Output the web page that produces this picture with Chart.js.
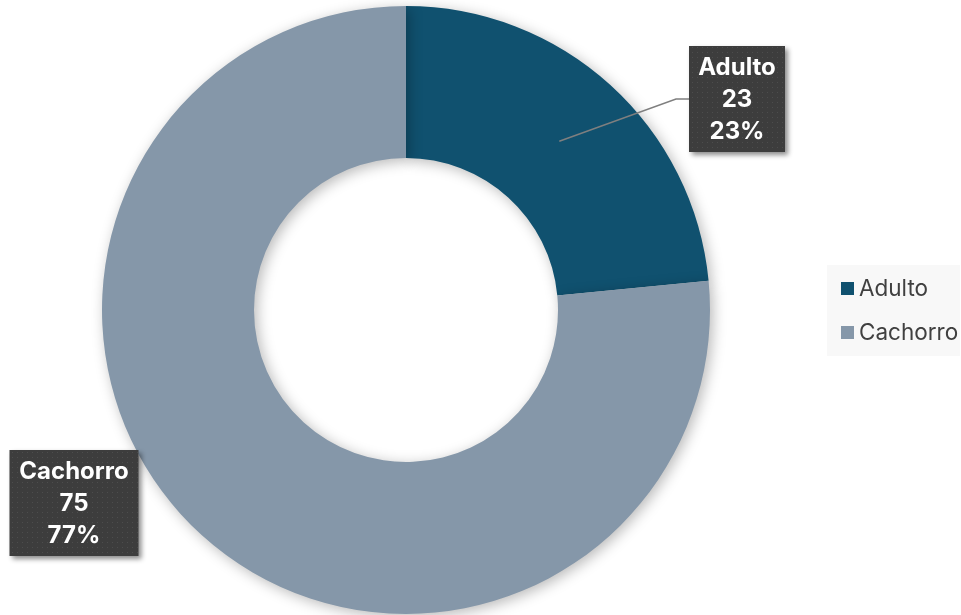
<!DOCTYPE html>
<html><head><meta charset="utf-8">
<script src="https://cdn.jsdelivr.net/npm/chart.js@4.4.1/dist/chart.umd.min.js"></script>
<style>html,body{margin:0;padding:0;background:#fff;}#wrap{width:961px;height:615px;position:relative;}</style>
</head><body><div id="wrap"><canvas id="c" width="961" height="615"></canvas></div>
<script>
const categories = ["Adulto", "Cachorro"];
const values = [23, 75];
const colors = ["#10516F", "#8597A9"];

const total = values.reduce((a, b) => a + b, 0);
const percents = values.map(v => Math.round(v / total * 100) + "%");

function makePattern(ctx) {
  const p = document.createElement("canvas");
  p.width = 5; p.height = 5;
  const g = p.getContext("2d");
  g.fillStyle = "#3d3d3d"; g.fillRect(0, 0, 5, 5);
  g.fillStyle = "#4d4d4d"; g.fillRect(2, 2, 1, 1);
  return ctx.createPattern(p, "repeat");
}

const shadowPlugin = {
  id: "shadow",
  beforeDatasetsDraw(chart) {
    const ctx = chart.ctx;
    ctx.save();
    ctx.shadowColor = "rgba(0,0,0,0.28)";
    ctx.shadowBlur = 14;
    ctx.shadowOffsetX = 3;
    ctx.shadowOffsetY = 3;
  },
  afterDatasetsDraw(chart) { chart.ctx.restore(); }
};

const labelPlugin = {
  id: "labels",
  afterDraw(chart) {
    const ctx = chart.ctx;
    const meta = chart.getDatasetMeta(0);
    const pat = makePattern(ctx);
    const boxes = [
      { dx: 331, dy: -211, w: 96, h: 106, leader: true },
      { dx: -332, dy: 193, w: 129, h: 106, leader: false }
    ];
    meta.data.forEach((arc, i) => {
      const b = boxes[i];
      const cx = arc.x + b.dx, cy = arc.y + b.dy;
      const x0 = cx - b.w / 2, y0 = cy - b.h / 2;
      if (b.leader) {
        const mid = (arc.startAngle + arc.endAngle) / 2;
        const r = (arc.innerRadius + arc.outerRadius) / 2;
        const sx = arc.x + Math.cos(mid) * r, sy = arc.y + Math.sin(mid) * r;
        ctx.save();
        ctx.strokeStyle = "#7f7f7f"; ctx.lineWidth = 1.5;
        ctx.beginPath();
        ctx.moveTo(sx, sy);
        ctx.lineTo(x0 - 13, cy);
        ctx.lineTo(x0, cy);
        ctx.stroke();
        ctx.restore();
      }
      ctx.save();
      ctx.shadowColor = "rgba(0,0,0,0.45)";
      ctx.shadowBlur = 5; ctx.shadowOffsetX = 3; ctx.shadowOffsetY = 3;
      ctx.fillStyle = pat;
      ctx.fillRect(x0, y0, b.w, b.h);
      ctx.restore();
      ctx.save();
      ctx.fillStyle = "#ffffff";
      ctx.font = "bold 24px Inter, 'Liberation Sans', sans-serif";
      ctx.textAlign = "center"; ctx.textBaseline = "middle";
      ctx.fillText(categories[i], cx, cy - 31);
      ctx.fillText(String(values[i]), cx, cy + 1);
      ctx.fillText(percents[i], cx, cy + 33);
      ctx.restore();
    });
    // legend
    const ca = chart.chartArea;
    const lx = ca.right + 117, ly = ca.top + 259;
    ctx.save();
    ctx.fillStyle = "#f8f8f8";
    ctx.fillRect(lx, ly, 133, 91);
    ctx.font = "22.5px Inter, 'Liberation Sans', sans-serif";
    ctx.textBaseline = "middle"; ctx.textAlign = "left";
    categories.forEach((c, i) => {
      const y = ly + 23 + i * 44;
      ctx.fillStyle = colors[i];
      ctx.fillRect(lx + 14, y - 6, 13, 13);
      ctx.fillStyle = "#404040";
      ctx.fillText(c, lx + 32, y + 1);
    });
    ctx.restore();
  }
};

new Chart(document.getElementById("c"), {
  type: "doughnut",
  data: {
    labels: categories,
    datasets: [{ data: values, backgroundColor: colors, borderWidth: 0, hoverOffset: 0 }]
  },
  options: {
    responsive: false,
    animation: false,
    cutout: "50%",
    layout: { padding: { top: 6, bottom: 1, left: 102, right: 251 } },
    plugins: { legend: { display: false }, tooltip: { enabled: false } }
  },
  plugins: [shadowPlugin, labelPlugin]
});
</script></body></html>
